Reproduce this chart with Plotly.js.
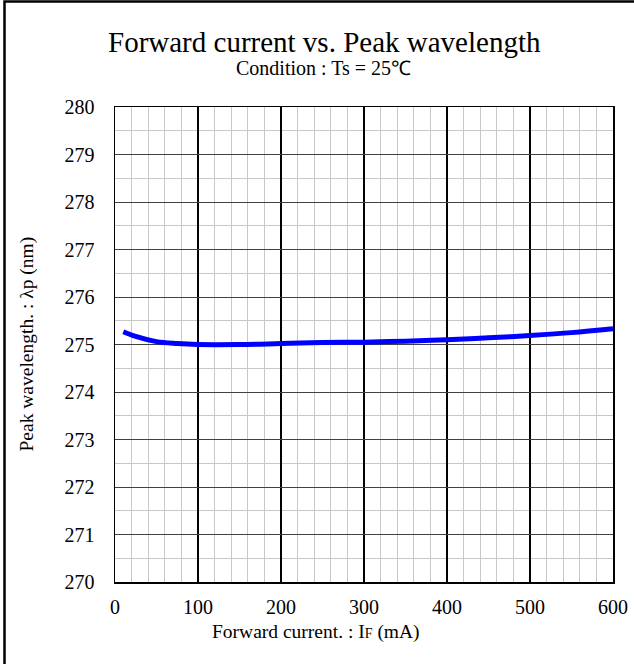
<!DOCTYPE html>
<html>
<head>
<meta charset="utf-8">
<script src="https://cdn.plot.ly/plotly-3.0.1.min.js"></script>
<style>html,body{margin:0;padding:0;background:#fff;}#chart{width:634px;height:664px;}</style>
</head>
<body>
<div id="chart"></div>
<script>
const forwardCurrent = [10, 25, 50, 75, 100, 150, 200, 250, 300, 350, 400, 450, 500, 550, 600];
const peakWavelength = [275.27, 275.17, 275.06, 275.02, 275.0, 275.0, 275.02, 275.04, 275.05, 275.07, 275.1, 275.14, 275.19, 275.25, 275.33];
const xTicks = [0, 100, 200, 300, 400, 500, 600];
const yTicks = [270, 271, 272, 273, 274, 275, 276, 277, 278, 279, 280];

const font = 'Liberation Serif';
const trace = {
  x: forwardCurrent, y: peakWavelength, mode: 'lines', type: 'scatter',
  line: {color: '#0000ff', width: 5, shape: 'spline', smoothing: 1},
  hoverinfo: 'skip'
};
const layout = {
  width: 634, height: 664,
  margin: {l: 115, r: 21, t: 107, b: 82},
  paper_bgcolor: '#fff', plot_bgcolor: '#fff',
  showlegend: false,
  font: {family: font, color: '#000'},
  xaxis: {
    range: [0, 600], tickvals: xTicks, ticktext: xTicks.map(String),
    showgrid: true, gridcolor: '#000', gridwidth: 1.5,
    minor: {dtick: 20, tick0: 0, showgrid: true, gridcolor: '#c8c8c8', gridwidth: 1},
    showline: true, linecolor: '#000', linewidth: 1.5, mirror: true,
    ticks: '', ticklabelstandoff: 6, zeroline: false, tickfont: {size: 20, family: font, color: '#000'}
  },
  yaxis: {
    range: [270, 280], tickvals: yTicks, ticktext: yTicks.map(String),
    showgrid: true, gridcolor: '#404040', gridwidth: 1,
    minor: {dtick: 0.5, tick0: 270, showgrid: true, gridcolor: '#c8c8c8', gridwidth: 1},
    showline: true, linecolor: '#000', linewidth: 1.5, mirror: true,
    ticks: '', ticklabelstandoff: 15, zeroline: false, tickfont: {size: 20, family: font, color: '#000'}
  },
  annotations: [
    {text: 'Forward current vs. Peak wavelength', xref: 'paper', yref: 'paper',
     x: (324 - 115) / 498, y: (582 - 42) / 475, xanchor: 'center', yanchor: 'middle',
     showarrow: false, font: {size: 29, family: font, color: '#000'}},
    {text: 'Condition : Ts = 25℃', xref: 'paper', yref: 'paper',
     x: (323 - 115) / 498, y: (582 - 68) / 475, xanchor: 'center', yanchor: 'middle',
     showarrow: false, font: {size: 20, family: font, color: '#000'}},
    {text: 'Forward current. : I<span style="font-size:14px">F</span> (mA)', xref: 'paper', yref: 'paper',
     x: (316 - 115) / 498, y: (582 - 632) / 475, xanchor: 'center', yanchor: 'middle',
     showarrow: false, font: {size: 19.5, family: font, color: '#000'}},
    {text: 'Peak wavelength. : λp (nm)', xref: 'paper', yref: 'paper',
     x: (26 - 115) / 498, y: 0.5, xanchor: 'center', yanchor: 'middle', textangle: -90,
     showarrow: false, font: {size: 19.5, family: font, color: '#000'}}
  ],
  shapes: [
    {type: 'rect', xref: 'paper', yref: 'paper',
     x0: (4.5 - 115) / 498, x1: (645 - 115) / 498,
     y0: (582 - 675) / 475, y1: (582 - 1.5) / 475,
     line: {color: '#000', width: 2.5}, fillcolor: 'rgba(0,0,0,0)', layer: 'above'}
  ]
};
Plotly.newPlot('chart', [trace], layout, {staticPlot: true, displayModeBar: false});
</script>
</body>
</html>
